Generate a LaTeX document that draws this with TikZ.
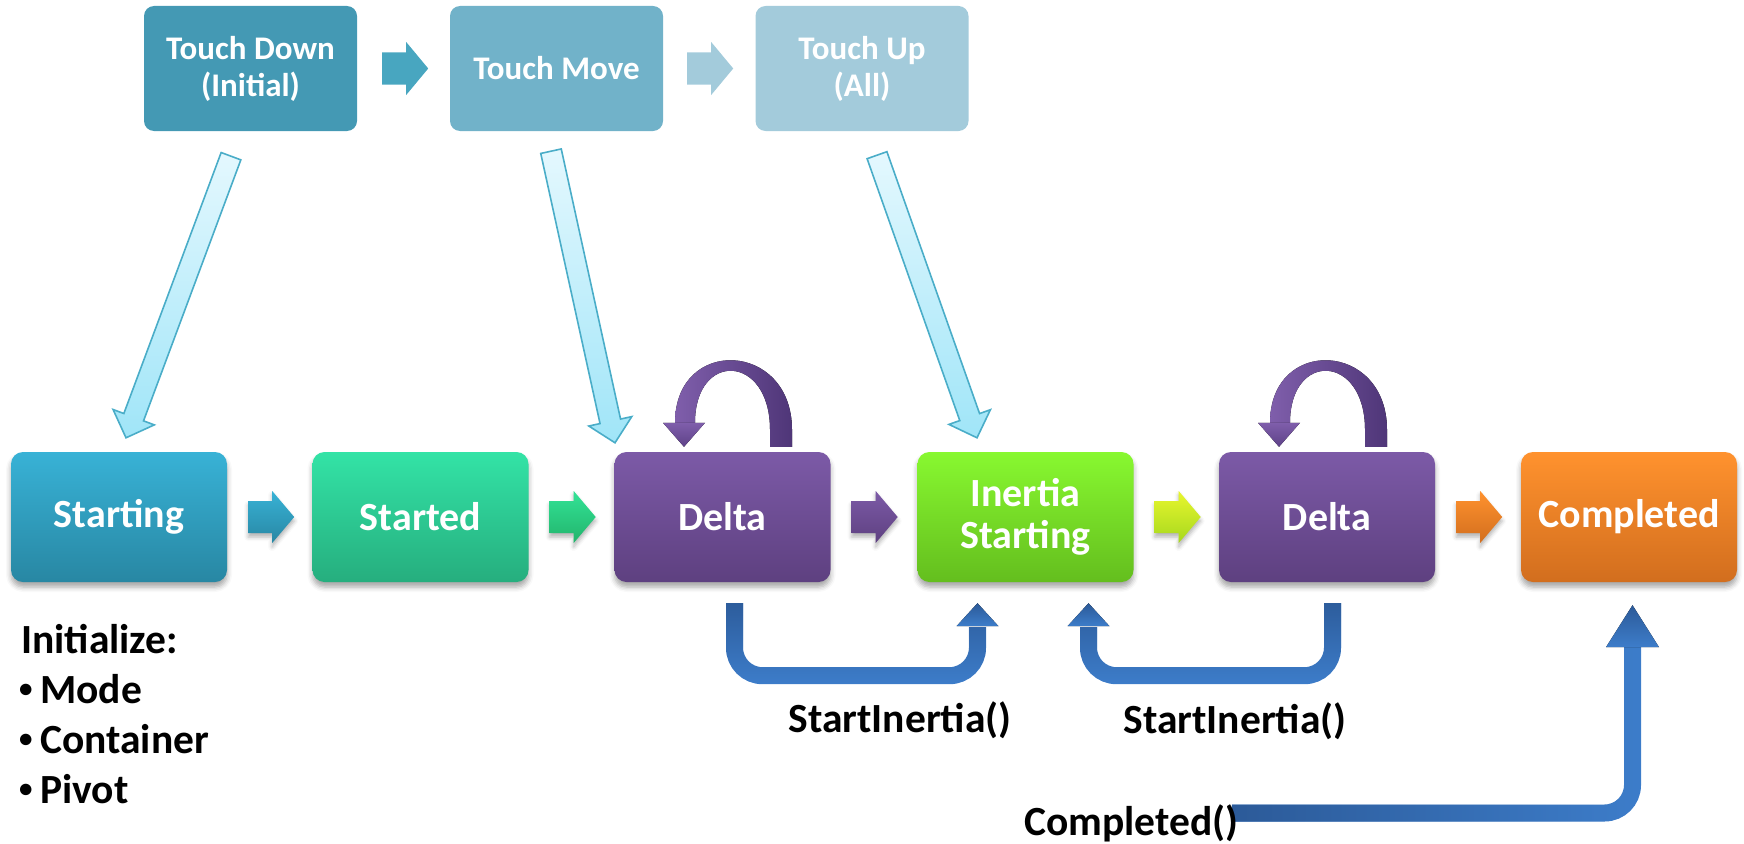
\documentclass[tikz,border=0pt]{standalone}
\usepackage{fontspec}
\setmainfont{Carlito}
\usetikzlibrary{calc,fadings,shadows.blur}

% palette
\definecolor{tdown}{HTML}{4499B4}
\definecolor{tmove}{HTML}{71B2C9}
\definecolor{tup}{HTML}{A3CBDB}
\definecolor{chevA}{HTML}{48A6C0}
\definecolor{startT}{HTML}{38B2D6}
\definecolor{startB}{HTML}{2887A3}
\definecolor{stdT}{HTML}{33E3A6}
\definecolor{stdB}{HTML}{26AE7E}
\definecolor{deltaT}{HTML}{7C5AA7}
\definecolor{deltaB}{HTML}{5E4080}
\definecolor{inerT}{HTML}{88F830}
\definecolor{inerB}{HTML}{64BE1E}
\definecolor{compT}{HTML}{FF922E}
\definecolor{compB}{HTML}{D26E1E}
\definecolor{yelT}{HTML}{E8F62E}
\definecolor{yelB}{HTML}{A6D81E}
\definecolor{grnT}{HTML}{33E396}
\definecolor{grnB}{HTML}{22B46C}
\definecolor{skyT}{HTML}{E4F8FE}
\definecolor{skyB}{HTML}{A0E5F8}
\definecolor{skyEdge}{HTML}{4AADC8}
\definecolor{loopL}{HTML}{7F5EAB}
\definecolor{loopD}{HTML}{4F3678}
\definecolor{loopH}{HTML}{5E4288}
\definecolor{callBlue}{HTML}{3D7DCA}
\definecolor{callDark}{HTML}{2C5A98}

% block arrow from #1 (tail) to #2 (tip): shaft half width #3, head half width #4, head length #5, style #6
\newcommand\BlockArrow[6]{%
  \coordinate (baneck) at ($(#2)!#5!(#1)$);
  \path[#6] ($(#1)!#3!90:(#2)$) -- ($(baneck)!#3!90:(#2)$) -- ($(baneck)!#4!90:(#2)$)
    -- (#2) -- ($(baneck)!#4!-90:(#2)$) -- ($(baneck)!#3!-90:(#2)$) -- ($(#1)!#3!-90:(#2)$) -- cycle;
}

% curved self-loop above a state, drawn around the local origin (top centre of the state)
\newcommand\SelfLoop{%
  \fill[left color=loopL, right color=loopD]
    (69.5,-5) -- (69.5,-22) .. controls (69.5,-111) and (-47.5,-116) .. (-47.5,-29)
    -- (-27.5,-29) .. controls (-27.5,-101) and (47.5,-98) .. (47.5,-22) -- (47.5,-5) -- cycle;
  \fill[top color=loopL, bottom color=loopH] (-59.5,-29) -- (-17.5,-29) -- (-38.5,-5) -- cycle;
}

% upward arrow head of a call connector, tip at #1
\newcommand\CallHead[3]{%
  \fill[top color=callDark, bottom color=callBlue] ($(#1)+(-#2,#3)$) -- ($(#1)+(#2,#3)$) -- (#1) -- cycle;
}

\begin{document}
\begin{tikzpicture}[x=1pt,y=-1pt,
  topbox/.style={rounded corners=10pt, minimum width=213pt, minimum height=125pt, inner sep=0pt,
    text=white, font=\fontsize{33}{37}\selectfont\bfseries, align=center},
  statebox/.style={rounded corners=12pt, minimum width=216pt, minimum height=130pt, inner sep=0pt,
    text=white, font=\fontsize{40}{42}\selectfont\bfseries, align=center,
    blur shadow={shadow xshift=0pt, shadow yshift=-5pt, shadow blur radius=5pt, shadow opacity=35}},
  chevflat/.style={fill=#1},
  chevshade/.style={top color=#1T, bottom color=#1B,
    blur shadow={shadow xshift=0pt, shadow yshift=-4pt, shadow blur radius=4pt, shadow opacity=30}},
  skyarrow/.style={draw=skyEdge, line width=1.6pt, top color=skyT, bottom color=skyB, line join=miter},
  callband/.style={line width=17pt, rounded corners=28pt},
  lbl/.style={font=\fontsize{41.5}{50}\selectfont\bfseries, inner sep=0pt, text=black},
  dot/.style={font=\fontsize{27}{30}\selectfont\bfseries, inner sep=0pt, text=black}
]
\useasboundingbox (0,0) rectangle (1744,843);

% gesture row
\node[topbox, fill=tdown] (td) at (250.5,68.5) {Touch Down\\(Initial)};
\node[topbox, fill=tmove] (tm) at (556.5,68.5) {Touch Move};
\node[topbox, fill=tup]   (tu) at (862,68.5)   {Touch Up\\(All)};

\BlockArrow{$(td.east)+(25,0)$}{$(td.east)+(71,0)$}{16pt}{26.5pt}{22pt}{chevflat=chevA}
\BlockArrow{$(tm.east)+(24,0)$}{$(tm.east)+(70,0)$}{16pt}{26.5pt}{22pt}{chevflat=tup}

% manipulation states
\node[statebox, top color=startT, bottom color=startB] (s1)  at (119,517)    {Starting};
\node[statebox, top color=stdT,   bottom color=stdB]   (s2)  at (420.5,517)  {Started};
\node[statebox, top color=deltaT, bottom color=deltaB] (d1)  at (722.5,517)  {Delta};
\node[statebox, top color=inerT,  bottom color=inerB]  (ins) at (1025.5,517) {Inertia\\Starting};
\node[statebox, top color=deltaT, bottom color=deltaB] (d2)  at (1327,517)   {Delta};
\node[statebox, top color=compT,  bottom color=compB]  (cmp) at (1629,517)   {Completed};

\BlockArrow{$(s1.east)+(21,0)$}{$(s1.east)+(67,0)$}{16pt}{26pt}{22pt}{chevshade=start}
\BlockArrow{$(s2.east)+(21,0)$}{$(s2.east)+(67,0)$}{16pt}{26pt}{22pt}{chevshade=grn}
\BlockArrow{$(d1.east)+(21,0)$}{$(d1.east)+(67,0)$}{16pt}{26pt}{22pt}{chevshade=delta}
\BlockArrow{$(ins.east)+(21,0)$}{$(ins.east)+(67,0)$}{16pt}{26pt}{22pt}{chevshade=yel}
\BlockArrow{$(d2.east)+(21,0)$}{$(d2.east)+(67,0)$}{16pt}{26pt}{22pt}{chevshade=comp}

% touch events feeding the states
\BlockArrow{$(td.south)+(-19.5,25)$}{$(s1.north)+(7,-14)$}{10.5pt}{22pt}{22pt}{skyarrow}
\BlockArrow{$(tm.south)+(-5.5,20)$}{$(d1.north)+(-107.5,-9)$}{10.5pt}{22pt}{22pt}{skyarrow}
\BlockArrow{$(tu.south)+(15,24)$}{$(ins.north)+(-48.5,-14)$}{10.5pt}{22pt}{22pt}{skyarrow}

% self loops on the delta states
\begin{scope}[shift={(d1.north)}]
  \SelfLoop
\end{scope}
\begin{scope}[shift={($(d2.north)+(-9.5,0)$)}]
  \SelfLoop
\end{scope}

% StartInertia() from the first delta
\coordinate (c1s) at ($(d1.south)+(12,21)$);
\coordinate (c1t) at ($(ins.south)+(-48,21)$);
\draw[callband, callBlue] (c1s) |- ($(c1t)+(0,72.5)$) -- ($(c1t)+(0,24)$);
\draw[callband, callDark, path fading=south] (c1s) |- ($(c1t)+(0,72.5)$) -- ($(c1t)+(0,24)$);
\CallHead{c1t}{21}{23}

% StartInertia() from the second delta
\coordinate (c2s) at ($(d2.south)+(5.5,21)$);
\coordinate (c2t) at ($(ins.south)+(63,21)$);
\draw[callband, callBlue] (c2s) |- ($(c2t)+(0,72.5)$) -- ($(c2t)+(0,24)$);
\draw[callband, callDark, path fading=south] (c2s) |- ($(c2t)+(0,72.5)$) -- ($(c2t)+(0,24)$);
\CallHead{c2t}{21}{23}

% labels
\node[lbl, anchor=base] (si1) at (900,732) {StartInertia()};
\node[lbl, anchor=base] (si2) at (1235,733) {StartInertia()};

% Completed() call
\coordinate (c3s) at (1232,813);
\coordinate (c3t) at ($(cmp.south)+(3.5,23)$);
\draw[callband, callBlue] (c3s) -| ($(c3t)+(0,41)$);
\draw[callband, callDark, path fading=east] (c3s) -| ($(c3t)+(0,41)$);
\CallHead{c3t}{26.5}{42}
\node[lbl, anchor=base west] (cpl) at (1024,835) {Completed()};

% initialisation list
\node[lbl, anchor=base west] (init) at (21,653) {Initialize:};
\node[dot, anchor=base west] (bu1) at (19,697) {\textbullet};
\node[lbl, anchor=base west] (li1) at (40,703) {Mode};
\node[dot, anchor=base west] (bu2) at (19,747) {\textbullet};
\node[lbl, anchor=base west] (li2) at (40,753) {Container};
\node[dot, anchor=base west] (bu3) at (19,797) {\textbullet};
\node[lbl, anchor=base west] (li3) at (40,803) {Pivot};
\end{tikzpicture}
\end{document}
